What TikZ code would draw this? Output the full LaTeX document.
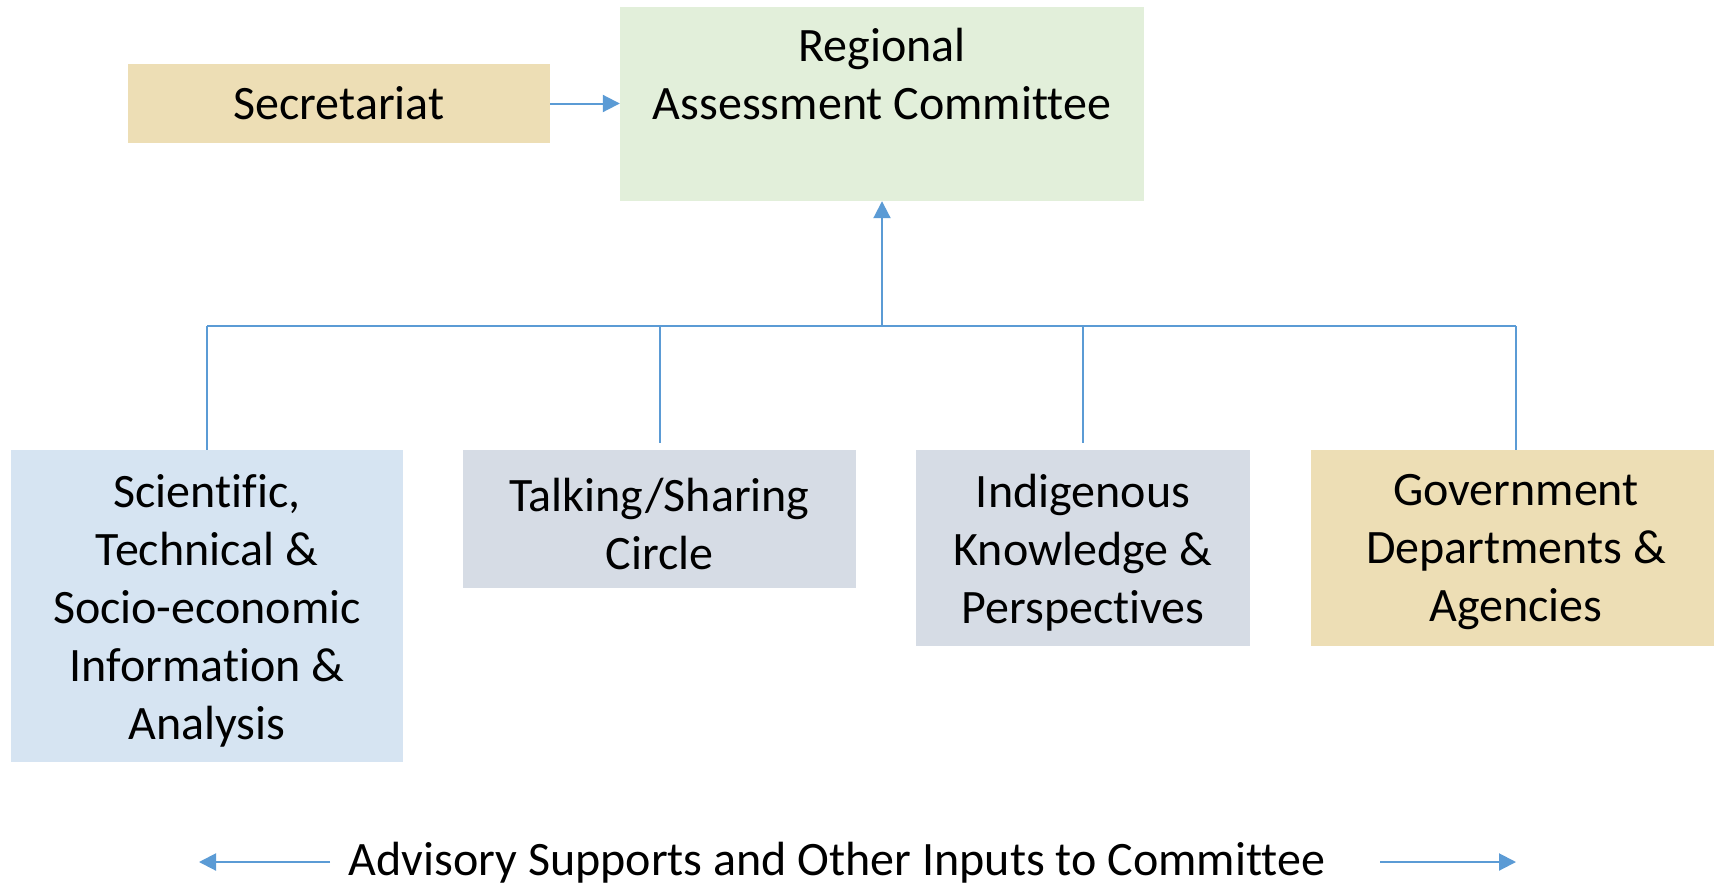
\documentclass[tikz,border=0pt]{standalone}
\usepackage{fontspec}
\setmainfont{Carlito}[Ligatures=NoCommon]
\usetikzlibrary{arrows.meta}
\definecolor{tanc}{HTML}{EDDEB5}
\definecolor{greenc}{HTML}{E2EFDA}
\definecolor{bluec}{HTML}{D6E4F2}
\definecolor{grayc}{HTML}{D6DCE5}
\definecolor{lineblue}{HTML}{5B9BD5}
\begin{document}
\begin{tikzpicture}[x=1pt,y=-1pt,
  box/.style={fill=#1, draw=none, inner sep=0pt, align=center, font=\fontsize{48}{58}\selectfont},
  txt/.style={inner sep=0pt, align=center, font=\fontsize{48}{58}\selectfont},
  lab/.style={label={[txt, yshift=-4.5pt]center:#1}},
  link/.style={draw=lineblue, line width=2pt},
  arr/.style={link, -{Triangle[length=17pt,width=17pt]}}]
\useasboundingbox (0,0) rectangle (1714,887);
\fill[white] (0,0) rectangle (1714,887);
\node[box=tanc, minimum width=422pt, minimum height=79pt] (sec) at (339,103.5) {Secretariat};
\node[box=greenc, minimum width=524pt, minimum height=194pt] (rac) at (882,104) {};
\node[txt] (ractext) at (882,74) {Regional\\Assessment Committee};
\node[box=bluec, minimum width=392pt, minimum height=312pt, lab={Scientific,\\Technical \&\\Socio-economic\\Information \&\\Analysis}] (sci) at (207,606) {};
\node[box=grayc, minimum width=393pt, minimum height=138pt, lab={Talking/Sharing\\Circle}] (talk) at (659.5,519) {};
\node[box=grayc, minimum width=334pt, minimum height=196pt, lab={Indigenous\\Knowledge \&\\Perspectives}] (ind) at (1083,548) {};
\node[box=tanc, minimum width=410pt, minimum height=196pt, lab={Government\\Departments \&\\Agencies}] (gov) at (1516,548) {};
\coordinate (hub) at (882,326);
\coordinate (talktop) at (659.5,443);
\coordinate (indtop) at (1083,443);
\draw[arr] (sec.east) -- (sec.east -| rac.west);
\draw[arr] (hub) -- (rac.south);
\draw[link] (sci.north |- hub) -- (gov.north |- hub);
\draw[link] (sci.north |- hub) -- (sci.north);
\draw[link] (talktop |- hub) -- (talktop);
\draw[link] (indtop |- hub) -- (indtop);
\draw[link] (gov.north |- hub) -- (gov.north);
\node[txt] (adv) at (837,863) {Advisory Supports and Other Inputs to Committee};
\coordinate (la) at (330,862);
\coordinate (lb) at (199,862);
\coordinate (ra) at (1380,862);
\coordinate (rb) at (1516,862);
\draw[arr] (la) -- (lb);
\draw[arr] (ra) -- (rb);
\end{tikzpicture}
\end{document}
